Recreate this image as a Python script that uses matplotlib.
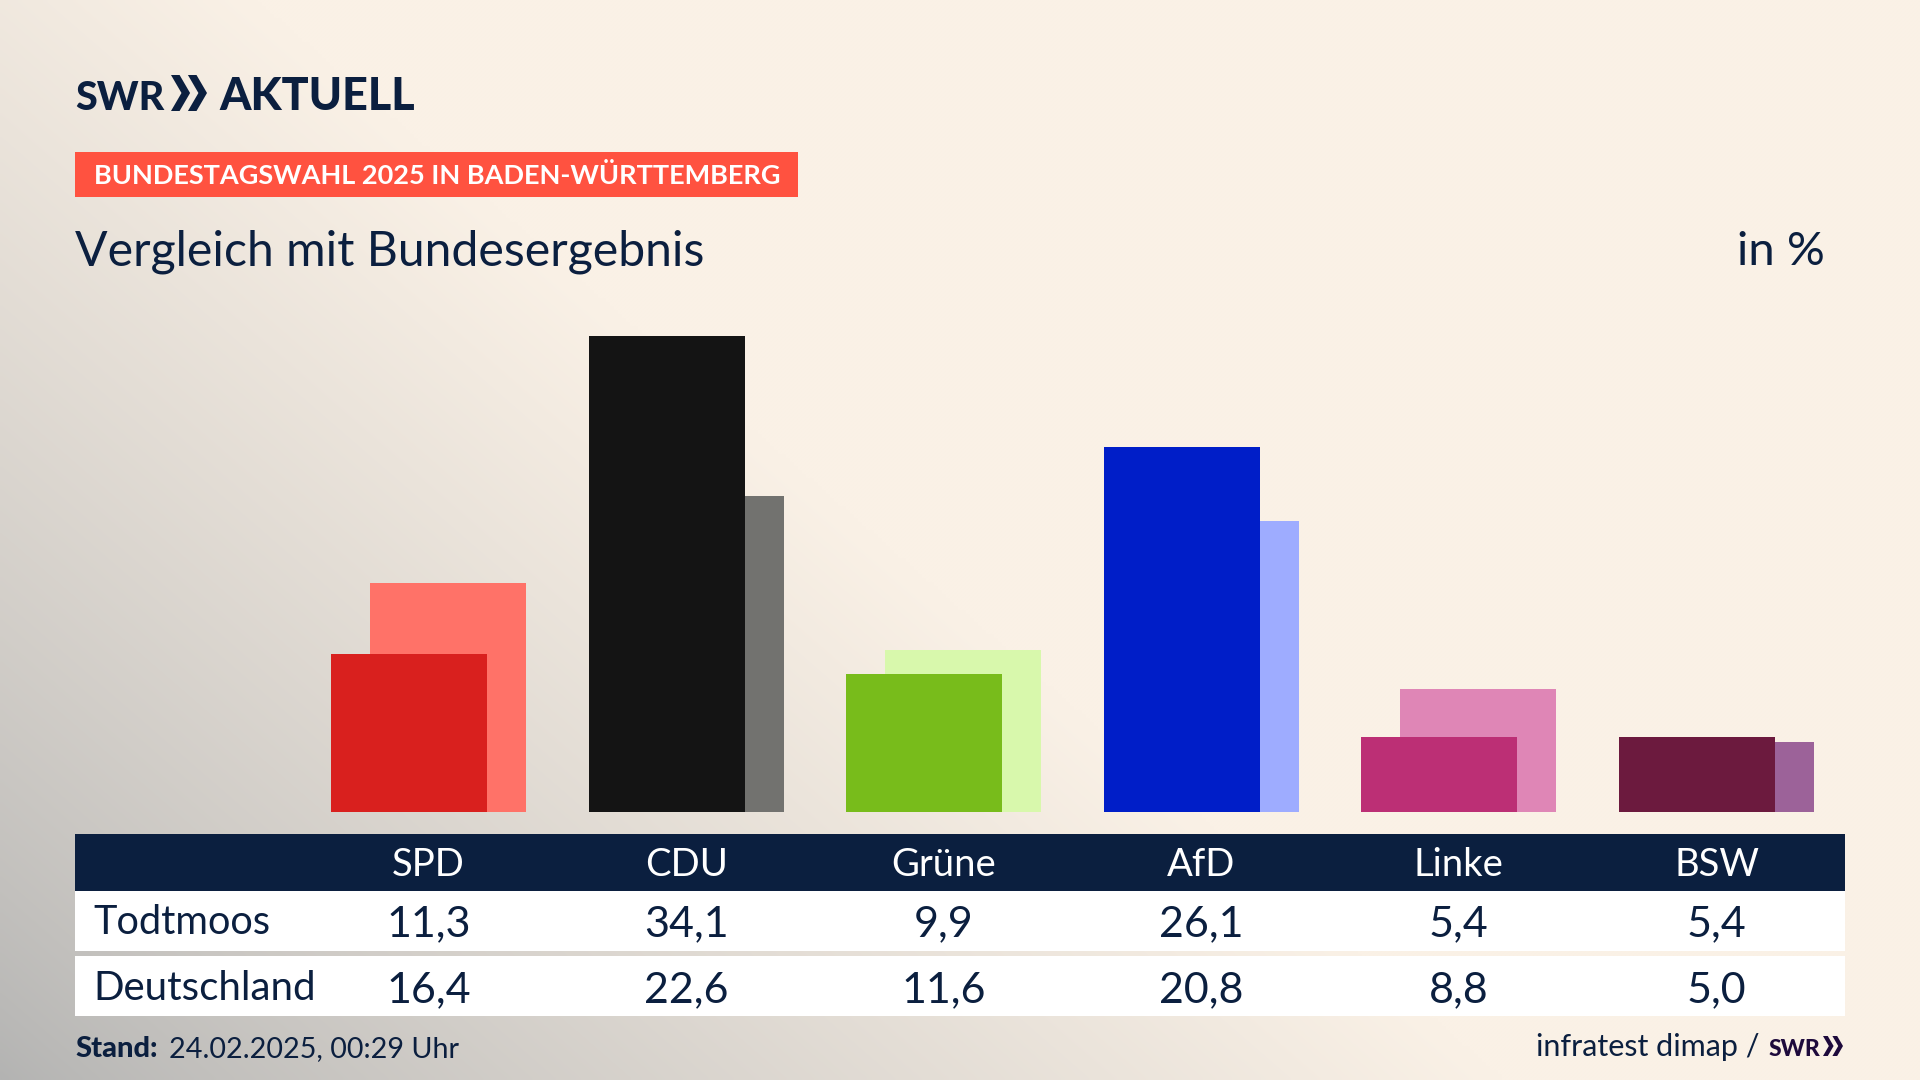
import numpy as np
import matplotlib
matplotlib.use('Agg')
import matplotlib.pyplot as plt
from matplotlib.patches import Rectangle, Polygon

plt.rcParams['font.family'] = ['Lato', 'DejaVu Sans']

# data
parties = ['SPD', 'CDU', 'Grüne', 'AfD', 'Linke', 'BSW']
todtmoos = [11.3, 34.1, 9.9, 26.1, 5.4, 5.4]
deutschland = [16.4, 22.6, 11.6, 20.8, 8.8, 5.0]
dark_colors = ['#d9201e', '#141414', '#78bc1b', '#001ec8', '#bc2f75', '#6c1a3e']
light_colors = ['#ff7268', '#72726f', '#d8f8ac', '#9eacff', '#df86b6', '#9c6299']

navy = '#0b1f3f'

fig = plt.figure(figsize=(19.2, 10.8), dpi=100)

# page in pixel coords, background + table + texts
page = fig.add_axes([0, 0, 1, 1])
page.set_xlim(0, 1920)
page.set_ylim(1080, 0)
page.axis('off')

# grey glow from the bottom left corner
yy, xx = np.mgrid[0:1080:270j, 0:1920:480j]
t = np.clip(xx / 1500.0 + (1080 - yy) / 1300.0, 0, 1) ** 0.8
grey = np.array([0xb3, 0xb3, 0xb2]) / 255
cream = np.array([0xfa, 0xf1, 0xe6]) / 255
bg = grey + (cream - grey) * t[..., None]
page.imshow(bg, extent=(0, 1920, 1080, 0), aspect='auto', interpolation='bilinear', zorder=0)


def chevrons(x, y, w, h, color):
    # the two >> of the logo
    for i in range(2):
        x0 = x + i * w * 0.47
        c = w * 0.53
        pts = [(x0, y), (x0 + c * 0.45, y), (x0 + c, y + h / 2), (x0 + c * 0.45, y + h),
               (x0, y + h), (x0 + c * 0.55, y + h / 2)]
        page.add_patch(Polygon(pts, closed=True, color=color, lw=0, zorder=3))


# logo
page.text(75, 110, 'SWR', fontsize=28.5, fontweight='black', color=navy, va='baseline')
chevrons(171, 75, 36, 36, navy)
page.text(219, 110, 'AKTUELL', fontsize=32.3, fontweight='black', color=navy, va='baseline')

# header
page.add_patch(Rectangle((75, 152), 723, 45, color='#ff5240', lw=0, zorder=2))
page.text(94, 184, 'BUNDESTAGSWAHL 2025 IN BADEN-WÜRTTEMBERG', fontsize=19.5, fontweight='bold',
          color='white', va='baseline', zorder=3)
page.text(75, 265, 'Vergleich mit Bundesergebnis', fontsize=34.7, color=navy, va='baseline')
page.text(1825, 265, 'in %', fontsize=34, color=navy, va='baseline', ha='right')

# table
page.add_patch(Rectangle((75, 834), 1770, 57, color=navy, lw=0, zorder=2))
page.add_patch(Rectangle((75, 891), 1770, 60, color='white', lw=0, zorder=2))
page.add_patch(Rectangle((75, 956), 1770, 60, color='white', lw=0, zorder=2))
page.text(93, 934, 'Todtmoos', fontsize=28.6, color=navy, va='baseline', zorder=3)
page.text(93, 1000, 'Deutschland', fontsize=29, color=navy, va='baseline', zorder=3)

col0 = 428.5
col_step = 257.6
for i, name in enumerate(parties):
    cx = col0 + i * col_step
    page.text(cx, 876, name, fontsize=27.5, color='white', ha='center', va='baseline', zorder=3)
    page.text(cx, 936, f'{todtmoos[i]:.1f}'.replace('.', ','), fontsize=31, color=navy,
              ha='center', va='baseline', zorder=3)
    page.text(cx, 1002, f'{deutschland[i]:.1f}'.replace('.', ','), fontsize=31, color=navy,
              ha='center', va='baseline', zorder=3)

# footer
page.text(75, 1057, 'Stand:', fontsize=21, fontweight='black', color=navy, va='baseline')
page.text(169, 1057, '24.02.2025, 00:29 Uhr', fontsize=20.7, color=navy, va='baseline')
page.text(1760, 1056, 'infratest dimap /', fontsize=22, color=navy, va='baseline', ha='right')
page.text(1769, 1056, 'SWR', fontsize=16.5, fontweight='black', color='#1e0a3c', va='baseline')
chevrons(1823, 1036, 20, 20, '#1e0a3c')

# bars, one category = col_step px, 13.97 px per percent
ax = fig.add_axes([(col0 - col_step / 2) / 1920, (1080 - 812) / 1080,
                   6 * col_step / 1920, 489 / 1080])
ax.patch.set_alpha(0)
x = np.arange(len(parties))
bar_w = 156 / col_step
shift = 19.5 / col_step
ax.bar(x + shift, deutschland, width=bar_w, color=light_colors, zorder=1)
ax.bar(x - shift, todtmoos, width=bar_w, color=dark_colors, zorder=2)
ax.set_xlim(-0.5, 5.5)
ax.set_ylim(0, 35)
ax.axis('off')

fig.savefig('out.png', dpi=100)
